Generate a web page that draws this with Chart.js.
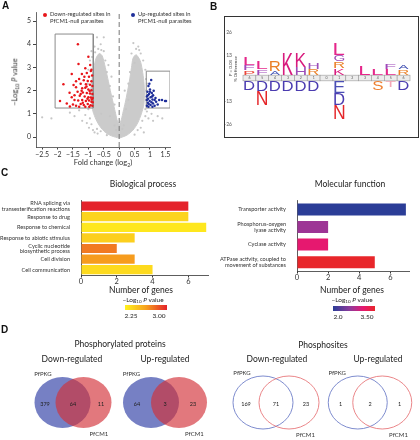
<!DOCTYPE html>
<html><head><meta charset="utf-8">
<script src="https://cdn.jsdelivr.net/npm/chart.js@4.4.1/dist/chart.umd.min.js"></script>
<style>
html,body{margin:0;padding:0;background:#fff;}
body{width:420px;height:440px;position:relative;overflow:hidden;font-family:Lato,"Open Sans",sans-serif;color:#222;}
canvas{position:absolute;}
.t{position:absolute;white-space:nowrap;line-height:1;}
.c{transform:translate(-50%,-50%);}
.rot{transform:translate(-50%,-50%) rotate(-90deg);}
.pl{font-family:"Liberation Sans",Arial,sans-serif;font-weight:bold;font-size:10px;color:#111;}
sub{font-size:70%;vertical-align:-0.3em;line-height:0;}
.dot{position:absolute;width:4px;height:4px;border-radius:50%;}
.box{position:absolute;border:1.3px solid #333;box-sizing:border-box;}
.grad{position:absolute;height:4.5px;}
</style></head><body>

<canvas id="volcano" width="210" height="172" style="left:0;top:0"></canvas>
<div class="box" style="left:224px;top:16px;width:195px;height:122px"></div>
<canvas id="logo" width="194" height="120" style="left:225px;top:17px"></canvas>
<canvas id="bio" width="210" height="95" style="left:0;top:195px"></canvas>
<canvas id="mol" width="210" height="94" style="left:210px;top:192px"></canvas>
<canvas id="venn1" width="100" height="75" style="left:22.5px;top:365px"></canvas>
<canvas id="venn2" width="100" height="75" style="left:114.5px;top:365px"></canvas>
<canvas id="venn3" width="100" height="75" style="left:226px;top:365px"></canvas>
<canvas id="venn4" width="100" height="75" style="left:320px;top:365px"></canvas>

<!-- panel A texts -->
<div class="t pl" style="left:2px;top:1px">A</div>
<div class="dot" style="left:43px;top:13px;background:#e8161b"></div>
<div class="t" style="left:50px;top:10px;font-size:5.8px;line-height:7px;color:#333">Down-regulated sites in<br>PfCM1-null parasites</div>
<div class="dot" style="left:131px;top:13px;background:#1f2f9a"></div>
<div class="t" style="left:138px;top:10px;font-size:5.8px;line-height:7px;color:#333">Up-regulated sites in<br>PfCM1-null parasites</div>
<div class="t rot" style="left:15px;top:82px;font-size:7.5px;color:#333">&minus;Log<sub>10</sub> <i>P</i> value</div>
<div class="t c" style="left:103px;top:163px;font-size:7.5px;color:#333">Fold change (log<sub>2</sub>)</div>

<!-- panel B texts -->
<div class="t pl" style="left:210px;top:2px">B</div>
<div class="t rot" style="left:230px;top:68px;font-size:4.6px;color:#444"><i>P</i> = 0.05</div>
<div class="t rot" style="left:235px;top:69px;font-size:4.6px;color:#444">% Difference</div>

<!-- panel C texts -->
<div class="t pl" style="left:1px;top:168px">C</div>
<div class="t c" style="left:143px;top:184px;font-size:8.5px;color:#222">Biological process</div>
<div class="t c" style="left:350px;top:184px;font-size:8.5px;color:#222">Molecular function</div>
<div class="t c" style="left:141px;top:290px;font-size:8.5px;color:#222">Number of genes</div>
<div class="t c" style="left:143px;top:299.5px;font-size:6.5px;color:#222">&minus;Log<sub>10</sub> <i>P</i> value</div>
<div class="grad" id="bioGrad" style="left:125px;top:305px;width:42px"></div>
<div class="t c" style="left:131px;top:316px;font-size:6.5px;color:#222">2.25</div>
<div class="t c" style="left:159px;top:316px;font-size:6.5px;color:#222">3.00</div>
<div class="t c" style="left:352px;top:290px;font-size:8.5px;color:#222">Number of genes</div>
<div class="t c" style="left:352px;top:299.5px;font-size:6.5px;color:#222">&minus;Log<sub>10</sub> <i>P</i> value</div>
<div class="grad" id="molGrad" style="left:333px;top:306px;width:42px"></div>
<div class="t c" style="left:338px;top:316.5px;font-size:6.5px;color:#222">2.0</div>
<div class="t c" style="left:367px;top:316.5px;font-size:6.5px;color:#222">3.50</div>

<!-- panel D texts -->
<div class="t pl" style="left:1px;top:325px">D</div>
<div class="t c" style="left:120px;top:344px;font-size:8.5px;color:#222">Phosphorylated proteins</div>
<div class="t c" style="left:72px;top:359px;font-size:8.5px;color:#222">Down-regulated</div>
<div class="t c" style="left:165px;top:359px;font-size:8.5px;color:#222">Up-regulated</div>
<div class="t c" style="left:323px;top:345px;font-size:8.5px;color:#222">Phosphosites</div>
<div class="t c" style="left:277px;top:359px;font-size:8.5px;color:#222">Down-regulated</div>
<div class="t c" style="left:378px;top:359px;font-size:8.5px;color:#222">Up-regulated</div>

<script>
// ===================== DATA =====================
// Panel A: volcano plot
const volcanoXTicks = [-2.5, -2, -1.5, -1, -0.5, 0, 0.5, 1, 1.5];
const volcanoYTicks = [0, 1, 2, 3, 4, 5];
// outline of the dense grey cloud of all sites (fold change, -log10 P)
const volcanoCloudOutline = [
  [0,-0.05],[-0.25,0.05],[-0.45,0.2],[-0.62,0.45],[-0.75,0.75],[-0.85,1.1],[-0.9,1.5],[-0.92,2.0],
  [-0.88,2.5],[-0.82,3.0],[-0.75,3.4],[-0.65,3.6],[-0.55,3.5],[-0.45,3.0],[-0.35,2.4],[-0.27,1.9],
  [-0.2,1.5],[-0.13,1.1],[-0.07,0.75],[0,0.55],[0.07,0.75],[0.13,1.1],[0.2,1.5],[0.26,1.9],
  [0.33,2.4],[0.4,3.0],[0.45,3.4],[0.55,3.55],[0.68,3.3],[0.75,2.9],[0.8,2.4],[0.82,1.9],
  [0.8,1.4],[0.72,1.0],[0.6,0.6],[0.45,0.3],[0.25,0.08],[0,-0.05]
];
// scattered non-significant sites around the cloud
const volcanoGreySites = [
  [-2.5,0.85],[-2.2,0.8],[-1.6,1.05],[-1.45,0.9],[-1.3,1.15],[-1.2,0.7],[-1.1,0.95],[-1.05,0.6],
  [-1.0,1.2],[-0.98,0.4],[-0.95,0.8],[-0.9,0.55],[-0.85,0.3],[-0.8,0.2],[-0.72,0.35],[-0.7,0.15],
  [-0.6,0.25],[-1.0,2.9],[-0.95,3.3],[-0.9,3.7],[-0.8,3.9],[-0.72,4.3],[-0.68,3.8],[-0.6,4.0],
  [-0.5,3.7],[-0.45,3.3],[-0.4,2.8],[-0.5,4.3],[-0.3,2.2],[-0.2,1.75],[-1.02,2.3],[-1.0,1.7],
  [-0.97,1.3],[-0.88,3.45],[-0.78,3.65],[-0.58,3.75],[-0.35,3.1],[-0.25,2.6],[-0.15,1.4],
  [0.3,2.3],[0.35,2.8],[0.4,3.6],[0.46,4.05],[0.55,3.8],[0.62,3.9],[0.7,3.6],[0.78,3.3],
  [0.85,2.9],[0.87,2.5],[0.88,2.0],[0.87,1.6],[0.85,1.2],[0.85,0.9],[0.75,0.7],[0.7,0.4],
  [0.6,0.3],[0.9,1.1],[0.95,0.8],[1.05,1.0],[1.1,0.7],[1.25,0.9],[1.4,0.8],[0.8,0.2],
  [0.5,0.1],[-0.4,0.08],[0.15,0.5],[-0.15,0.5],[0.1,0.35],[-0.1,0.3],[0.22,1.2],[0.3,1.6],
  [0.5,3.2],[0.65,3.75],[0.9,2.3],[0.92,1.4],[0.18,2.0],[-0.58,1.0],[-0.3,0.9]
];
const downSites = [
  [-1.34,4.0],[-1.0,3.46],[-1.32,3.15],[-0.94,3.1],[-1.1,2.96],[-0.9,2.9],[-1.54,2.72],[-1.21,2.72],
  [-1.05,2.76],[-0.98,2.6],[-0.88,2.65],[-1.81,2.27],[-1.48,2.24],[-1.3,2.5],[-1.15,2.45],[-1.02,2.42],
  [-0.9,2.4],[-1.25,2.3],[-1.08,2.28],[-0.95,2.25],[-0.87,2.2],[-1.4,2.15],[-1.2,2.1],[-1.1,2.12],
  [-1.0,2.05],[-0.9,2.02],[-1.61,1.91],[-1.35,1.95],[-1.18,1.92],[-1.05,1.9],[-0.95,1.88],[-0.87,1.85],
  [-1.54,1.71],[-1.28,1.78],[-1.12,1.75],[-1.0,1.72],[-0.92,1.7],[-0.86,1.68],[-1.92,1.55],[-1.45,1.6],
  [-1.33,1.58],[-1.2,1.6],[-1.08,1.55],[-0.98,1.57],[-0.9,1.52],[-0.86,1.5],[-1.7,1.45],[-1.5,1.4],
  [-1.4,1.35],[-1.25,1.42],[-1.15,1.38],[-1.02,1.42],[-0.93,1.37],[-0.87,1.35],[-1.6,1.32],[-1.3,1.3],
  [-1.1,1.3],[-0.97,1.3],[-1.45,1.8],[-1.22,2.0],[-0.96,1.98],[-1.13,2.6],[-1.4,2.4],[-0.92,2.85],
  [-1.18,1.48],[-1.03,1.65],[-0.89,1.62],[-1.25,1.85],[-1.06,2.18]
];
const upSites = [
  [1.04,2.46],[0.95,2.2],[1.0,2.05],[0.92,1.95],[1.06,1.9],[0.97,1.85],[1.1,1.8],[0.9,1.75],
  [1.02,1.72],[0.94,1.65],[1.08,1.62],[1.15,1.6],[0.9,1.6],[0.99,1.55],[1.05,1.5],[1.2,1.52],
  [0.93,1.48],[1.1,1.45],[0.96,1.42],[1.02,1.38],[0.9,1.35],[1.15,1.35],[1.08,1.3],[0.95,1.3],
  [1.3,1.6],[1.39,1.6],[1.49,1.55],[1.52,1.55],[1.12,2.0],[0.98,2.3],[1.25,1.4],[1.0,1.95],
  [0.93,1.8],[1.07,1.75],[1.18,1.68]
];
// selection boxes: [xMin, xMax, yMin, yMax]
const downBox = [-2.08, -0.84, 1.25, 4.44];
const upBox = [0.88, 1.66, 1.25, 2.84];

// Panel B: sequence logo (% difference), stacks listed from the axis outward
const logoPositions = [1,2,3,4,5,6,7,8,9,10,11,12,13];
const logoPosLabels = ['6','5','4','3','2','1','0','1','2','3','4','5','6'];
const logoYTicks = [-26, -13, 13, 26];
const logoEnriched = [
  [['P',2.5],['F',3],['L',4.2]],
  [['F',3],['L',4.6]],
  [['A',2],['R',6]],
  [['K',12.2]],
  [['H',4.5],['K',8.3]],
  [['R',3.5],['H',4]],
  [],
  [['K',3.6],['R',4],['G',3.6],['L',6.6]],
  [],
  [['L',5]],
  [['L',3.5]],
  [['L',3.5],['F',3]],
  [['R',3],['A',2]]
];
const logoDepleted = [
  [['D',5.2]],
  [['D',5.6],['N',7.8]],
  [['D',5.6]],
  [['D',5.6]],
  [['D',5.6]],
  [['D',5.6]],
  [],
  [['E',7],['D',6.8],['N',7.8]],
  [],
  [],
  [['S',5.2]],
  [['T',3.6]],
  [['D',5.2]]
];

// Panel C: GO enrichment
const bioProcesses = [['RNA splicing via','transesterification reactions'],'Response to drug','Response to chemical','Response to abiotic stimulus',['Cyclic nucleotide','biosynthetic process'],'Cell division','Cell communication'];
const bioGeneCounts = [6, 6, 7, 3, 2, 3, 4];
const bioLogP = [3.0, 2.39, 2.30, 2.41, 2.74, 2.64, 2.36];
const molFunctions = ['Transporter activity',['Phosphorus-oxygen','lyase activity'],'Cyclase activity',['ATPase activity, coupled to','movement of substances']];
const molGeneCounts = [7, 2, 2, 5];
const molLogP = [2.0, 2.68, 3.08, 3.5];
const geneTicks = [0, 2, 4, 6];

// Panel D: Venn counts [PfPKG only, both, PfCM1 only]
const vennSetNames = ['PfPKG', 'PfCM1'];
const proteinsDown = [379, 64, 11];
const proteinsUp = [64, 3, 23];
const sitesDown = [169, 71, 23];
const sitesUp = [1, 2, 1];

// ===================== STYLE =====================
const FONT = 'Lato, "Open Sans", sans-serif';
Chart.defaults.font.family = FONT;
Chart.defaults.animation = false;
Chart.defaults.plugins.legend.display = false;
Chart.defaults.plugins.tooltip.enabled = false;

const bioScale = {min:2.25, max:3.0, stops:[[0,'#fff21e'],[0.5,'#f7a11e'],[1,'#e4222a']]};
const molScale = {min:2.0, max:3.5, stops:[[0,'#2b3d97'],[0.4,'#8e3b9c'],[0.72,'#e6186f'],[1,'#e8262a']]};
const letterColors = {L:'#e5268a',F:'#a04aba',P:'#e8473a',R:'#ea8028',A:'#3a4ab0',K:'#d81b7e',H:'#9c4db8',G:'#9a4ab5',D:'#4b3cb0',N:'#e5262a',E:'#4b4fb5',S:'#ee7e2e',T:'#f3a6b6'};

function hexRgb(h){h=h.replace('#','');return [0,2,4].map(i=>parseInt(h.substr(i,2),16));}
function colorAt(sc, v){
  let t=(v-sc.min)/(sc.max-sc.min); t=Math.max(0,Math.min(1,t));
  const st=sc.stops;
  for(let i=1;i<st.length;i++){
    if(t<=st[i][0]){
      const u=(t-st[i-1][0])/(st[i][0]-st[i-1][0]);
      const a=hexRgb(st[i-1][1]), b=hexRgb(st[i][1]);
      return 'rgb('+a.map((c,k)=>Math.round(c+(b[k]-c)*u)).join(',')+')';
    }
  }
  return st[st.length-1][1];
}
function cssGradient(sc){return 'linear-gradient(to right,'+sc.stops.map(s=>s[1]+' '+(s[0]*100)+'%').join(',')+')';}
document.getElementById('bioGrad').style.background = cssGradient(bioScale);
document.getElementById('molGrad').style.background = cssGradient(molScale);

const xy = arr => arr.map(p=>({x:p[0], y:p[1]}));
const rectPts = b => [{x:b[0],y:b[2]},{x:b[0],y:b[3]},{x:b[1],y:b[3]},{x:b[1],y:b[2]},{x:b[0],y:b[2]}];
const fmt = v => (v<0?'\u2212':'') + Math.abs(v);
const fixTicks = arr => (s => { s.ticks = arr.map(v=>({value:v})); });

// ===================== A: volcano =====================
const vYMin = -0.43, vYMax = 5.39;
new Chart(document.getElementById('volcano'), {
  type:'scatter',
  data:{datasets:[
    {type:'line', data:xy(volcanoCloudOutline), fill:'shape', backgroundColor:'#cbcbcb', borderColor:'#cbcbcb', borderWidth:1, pointRadius:0, tension:0.25, order:6},
    {data:xy(volcanoGreySites), pointRadius:1.1, backgroundColor:'#c6c6c6', borderWidth:0, order:5},
    {type:'line', data:rectPts(downBox), borderColor:'#8c8c8c', borderWidth:1, pointRadius:0, fill:false, tension:0, order:4},
    {type:'line', data:rectPts(upBox), borderColor:'#8c8c8c', borderWidth:1, pointRadius:0, fill:false, tension:0, order:4},
    {type:'line', data:[{x:0,y:vYMin},{x:0,y:vYMax}], borderColor:'#777', borderDash:[5,3], borderWidth:1, pointRadius:0, fill:false, order:3},
    {data:xy(downSites), pointRadius:1.25, backgroundColor:'#e8161b', borderWidth:0, order:1},
    {data:xy(upSites), pointRadius:1.25, backgroundColor:'#1f2f9a', borderWidth:0, order:1}
  ]},
  options:{
    responsive:false, devicePixelRatio:1,
    layout:{padding:{top:12,right:40,bottom:0,left:0}},
    scales:{
      x:{type:'linear', min:-2.7, max:1.65, afterBuildTicks:fixTicks(volcanoXTicks),
         ticks:{callback:v=>fmt(v), font:{size:7}, color:'#333', padding:1, maxRotation:0, autoSkip:false},
         grid:{drawOnChartArea:false, tickLength:2.5, color:'#444'}, border:{color:'#444', width:0.8},
         afterFit:s=>{s.height=25;}},
      y:{type:'linear', min:vYMin, max:vYMax, afterBuildTicks:fixTicks(volcanoYTicks),
         ticks:{callback:v=>fmt(v), font:{size:7}, color:'#333', padding:2, autoSkip:false},
         grid:{drawOnChartArea:false, tickLength:3, color:'#444'}, border:{color:'#444', width:0.8},
         afterFit:s=>{s.width=36;}}
    }
  }
});

// ===================== B: sequence logo =====================
function drawLetter(ctx, ch, x, yTop, w, h, color){
  if(h<=0) return;
  ctx.save();
  ctx.font = '100px "Liberation Sans", Arial, sans-serif';
  ctx.textBaseline = 'alphabetic'; ctx.textAlign = 'left';
  const m = ctx.measureText(ch);
  const gw = m.actualBoundingBoxLeft + m.actualBoundingBoxRight;
  const gh = m.actualBoundingBoxAscent + m.actualBoundingBoxDescent;
  ctx.translate(x, yTop);
  ctx.scale(w/gw, h/gh);
  ctx.fillStyle = color;
  ctx.fillText(ch, m.actualBoundingBoxLeft, m.actualBoundingBoxAscent);
  ctx.restore();
}
const logoPlugin = {
  id:'seqlogo',
  afterDatasetsDraw(chart, args, opts){
    const ctx = chart.ctx, xs = chart.scales.x, ys = chart.scales.y;
    const half = opts.bandHalf;
    logoPositions.forEach((pos,i)=>{
      const x0 = xs.getPixelForValue(pos-0.5), x1 = xs.getPixelForValue(pos+0.5);
      const yt = ys.getPixelForValue(half), yb = ys.getPixelForValue(-half);
      ctx.save();
      ctx.fillStyle = '#ececec'; ctx.strokeStyle = '#9a9a9a'; ctx.lineWidth = 0.6;
      ctx.fillRect(x0, yt, x1-x0, yb-yt); ctx.strokeRect(x0, yt, x1-x0, yb-yt);
      ctx.fillStyle = '#555'; ctx.font = '3.5px '+FONT; ctx.textAlign='center'; ctx.textBaseline='middle';
      ctx.fillText(logoPosLabels[i], (x0+x1)/2, (yt+yb)/2);
      ctx.restore();
      const cw = (x1-x0)*0.78, cx = (x0+x1)/2 - cw/2;
      let cum = half;
      logoEnriched[i].forEach(([L,h])=>{
        const yBot = ys.getPixelForValue(cum), yTop = ys.getPixelForValue(cum+h);
        drawLetter(ctx, L, cx, yTop, cw, yBot-yTop-0.4, letterColors[L]);
        cum += h;
      });
      cum = -half;
      logoDepleted[i].forEach(([L,h])=>{
        const yTop = ys.getPixelForValue(cum), yBot = ys.getPixelForValue(cum-h);
        drawLetter(ctx, L, cx, yTop+0.4, cw, yBot-yTop-0.4, letterColors[L]);
        cum -= h;
      });
    });
  }
};
new Chart(document.getElementById('logo'), {
  type:'scatter',
  data:{datasets:[{data:logoPositions.map((p,i)=>({x:p, y:logoEnriched[i].reduce((s,e)=>s+e[1],0)})), pointRadius:0}]},
  options:{
    responsive:false, devicePixelRatio:1,
    layout:{padding:{top:8,right:9,bottom:0,left:0}},
    plugins:{seqlogo:{bandHalf:1.6}},
    scales:{
      x:{type:'linear', min:0.5, max:13.5, display:false},
      y:{type:'linear', min:-30, max:30, afterBuildTicks:fixTicks(logoYTicks),
         ticks:{callback:v=>fmt(v), font:{size:5}, color:'#555', padding:3, autoSkip:false},
         grid:{display:false}, border:{display:false},
         afterFit:s=>{s.width=18;}}
    }
  },
  plugins:[logoPlugin]
});

// ===================== C: bar charts =====================
function barChart(id, labels, counts, colors, max, yWidth, padTop, padRight, barPct){
  return new Chart(document.getElementById(id), {
    type:'bar',
    data:{labels:labels, datasets:[{data:counts, backgroundColor:colors, barPercentage:barPct, categoryPercentage:1, borderWidth:0}]},
    options:{
      indexAxis:'y', responsive:false, devicePixelRatio:1,
      layout:{padding:{top:padTop,right:padRight,bottom:0,left:0}},
      scales:{
        x:{type:'linear', min:0, max:max, afterBuildTicks:fixTicks(geneTicks),
           ticks:{font:{size:7.5}, color:'#333', padding:0, autoSkip:false},
           grid:{drawOnChartArea:false, tickLength:2.5, color:'#333'}, border:{color:'#333', width:0.8},
           afterFit:s=>{s.height=15;}},
        y:{ticks:{font:{size:5.6, lineHeight:1.0}, color:'#333', padding:3, autoSkip:false},
           grid:{display:false}, border:{color:'#333', width:0.8},
           afterFit:s=>{s.width=yWidth;}}
      }
    }
  });
}
barChart('bio', bioProcesses, bioGeneCounts, bioLogP.map(p=>colorAt(bioScale,p)), 7.1, 81, 5, 2, 0.87);
barChart('mol', molFunctions, molGeneCounts, molLogP.map(p=>colorAt(molScale,p)), 7.2, 87, 5, 11, 0.68);

// ===================== D: Venn diagrams =====================
const vennPlugin = {
  id:'venn',
  afterDatasetsDraw(chart, args, o){
    const ctx = chart.ctx;
    const a = chart.getDatasetMeta(0).data[0], b = chart.getDatasetMeta(1).data[0];
    const ax=a.x, bx=b.x, cy=a.y, rx=o.rx, ry=o.ry;
    ctx.save();
    const ell = (x)=>{ctx.beginPath(); ctx.ellipse(x, cy, rx, ry, 0, 0, Math.PI*2);};
    if(o.filled){
      ell(ax); ctx.fillStyle='#7680c4'; ctx.fill();
      ell(bx); ctx.fillStyle='rgba(210,47,55,0.65)'; ctx.fill();
    } else {
      ctx.lineWidth=0.9;
      ell(ax); ctx.strokeStyle='#6f7fc8'; ctx.stroke();
      ell(bx); ctx.strokeStyle='#e8787c'; ctx.stroke();
    }
    ctx.fillStyle='#222'; ctx.textAlign='center'; ctx.textBaseline='middle';
    ctx.font='5.5px '+FONT;
    const c = o.counts, ly = cy+1.5;
    ctx.fillText(String(c[0]), ((ax-rx)+(bx-rx))/2, ly);
    ctx.fillText(String(c[1]), (ax+bx)/2, ly);
    ctx.fillText(String(c[2]), ((ax+rx)+(bx+rx))/2, ly);
    ctx.font='6px '+FONT; ctx.fillStyle='#333';
    ctx.fillText(vennSetNames[0], ax - rx*0.7, cy - ry - 2.5);
    ctx.fillText(vennSetNames[1], bx + rx*0.55, cy + ry + 6);
    ctx.restore();
  }
};
function venn(id, counts, sep, rx, ry, filled){
  const W = 100;
  return new Chart(document.getElementById(id), {
    type:'scatter',
    data:{datasets:[{label:vennSetNames[0], data:[{x:0,y:0}], pointRadius:0},{label:vennSetNames[1], data:[{x:1,y:0}], pointRadius:0}]},
    options:{
      responsive:false, devicePixelRatio:1, layout:{padding:0},
      plugins:{venn:{counts:counts, rx:rx, ry:ry, filled:filled}},
      scales:{x:{type:'linear', display:false, min:0.5-(W/2)/sep, max:0.5+(W/2)/sep},
              y:{type:'linear', display:false, min:-1, max:1}}
    },
    plugins:[vennPlugin]
  });
}
venn('venn1', proteinsDown, 21, 28, 25.5, true);
venn('venn2', proteinsUp, 28, 28, 25.5, true);
venn('venn3', sitesDown, 26, 30, 26.5, false);
venn('venn4', sitesUp, 24.5, 29.5, 26.5, false);
</script>
</body></html>
